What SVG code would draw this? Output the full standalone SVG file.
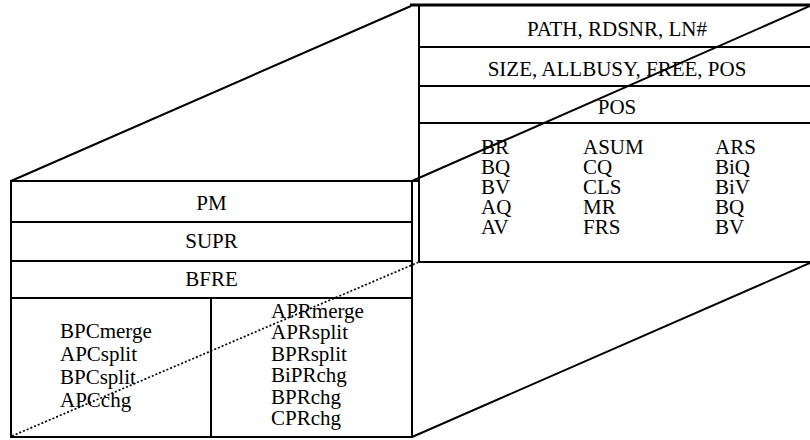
<svg xmlns="http://www.w3.org/2000/svg" width="810" height="440" viewBox="0 0 810 440">
<style>
  .ln { stroke: #000; stroke-width: 2; fill: none; }
  .thick { stroke: #000; stroke-width: 3; fill: none; }
  .dot { stroke: #000; stroke-width: 1.7; stroke-dasharray: 2 2; fill: none; }
  text { font-family: "Liberation Serif", "Times New Roman", serif; font-size: 21px; fill: #000; }
  .c { text-anchor: middle; }
</style>
<rect width="810" height="440" fill="#fff"/>

<g id="back-face">
  <line class="thick" x1="410" y1="5" x2="810" y2="5"/>
  <line class="ln" x1="419" y1="5" x2="419" y2="262"/>
  <line class="ln" x1="419" y1="47" x2="810" y2="47"/>
  <line class="ln" x1="419" y1="86" x2="810" y2="86"/>
  <line class="ln" x1="419" y1="123" x2="810" y2="123"/>
  <line class="ln" x1="419" y1="262" x2="810" y2="262"/>
  <text class="c" x="617" y="36">PATH, RDSNR, LN#</text>
  <text class="c" x="617" y="76">SIZE, ALLBUSY, FREE, POS</text>
  <text class="c" x="617" y="114">POS</text>
  <g id="back-list">
    <text x="481" y="154"><tspan x="481">BR</tspan><tspan x="481" dy="20">BQ</tspan><tspan x="481" dy="20">BV</tspan><tspan x="481" dy="20">AQ</tspan><tspan x="481" dy="20">AV</tspan></text>
    <text x="583" y="154"><tspan x="583">ASUM</tspan><tspan x="583" dy="20">CQ</tspan><tspan x="583" dy="20">CLS</tspan><tspan x="583" dy="20">MR</tspan><tspan x="583" dy="20">FRS</tspan></text>
    <text x="715" y="154"><tspan x="715">ARS</tspan><tspan x="715" dy="20">BiQ</tspan><tspan x="715" dy="20">BiV</tspan><tspan x="715" dy="20">BQ</tspan><tspan x="715" dy="20">BV</tspan></text>
  </g>
</g>

<g id="front-face">
  <rect class="ln" x="11" y="181" width="401" height="256"/>
  <line class="ln" x1="412" y1="181" x2="419" y2="181"/>
  <line class="ln" x1="11" y1="222" x2="412" y2="222"/>
  <line class="ln" x1="11" y1="261" x2="412" y2="261"/>
  <line class="ln" x1="11" y1="298" x2="412" y2="298"/>
  <line class="ln" x1="211" y1="298" x2="211" y2="437"/>
  <text class="c" x="211.5" y="210">PM</text>
  <text class="c" x="211.5" y="248">SUPR</text>
  <text class="c" x="211.5" y="286">BFRE</text>
  <g id="front-left-list">
    <text x="60" y="338"><tspan x="60">BPCmerge</tspan><tspan x="60" dy="23">APCsplit</tspan><tspan x="60" dy="23">BPCsplit</tspan><tspan x="60" dy="23">APCchg</tspan></text>
  </g>
  <g id="front-right-list">
    <text x="271" y="318"><tspan x="271">APRmerge</tspan><tspan x="271" dy="21.4">APRsplit</tspan><tspan x="271" dy="21.4">BPRsplit</tspan><tspan x="271" dy="21.4">BiPRchg</tspan><tspan x="271" dy="21.4">BPRchg</tspan><tspan x="271" dy="21.4">CPRchg</tspan></text>
  </g>
</g>

<g id="edges">
  <line class="ln" x1="11" y1="181" x2="411" y2="6"/>
  <line class="ln" x1="412" y1="181" x2="810" y2="6"/>
  <line class="ln" x1="412" y1="437" x2="810" y2="263"/>
  <line class="dot" x1="12" y1="436" x2="419" y2="262"/>
</g>
</svg>
